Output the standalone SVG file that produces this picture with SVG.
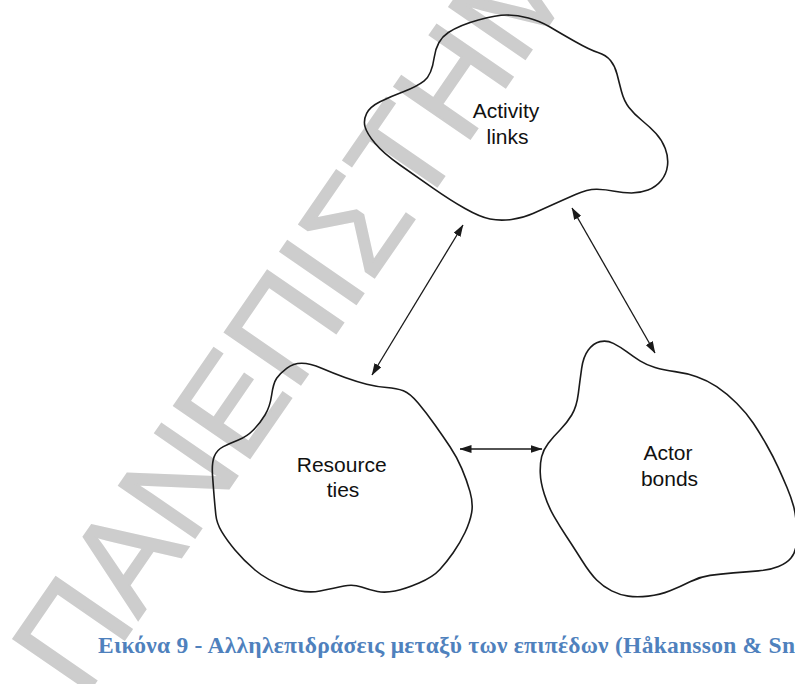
<svg xmlns="http://www.w3.org/2000/svg" width="795" height="684" viewBox="0 0 795 684">
<style>
.wm{font-family:"Liberation Sans",Arial,sans-serif;font-size:134px;fill:#cdcdcd;stroke:#cdcdcd;stroke-width:2}
.blob{fill:none;stroke:#1a1a1a;stroke-width:1.6;stroke-linejoin:round}
.lbl{font-family:"Liberation Sans",Arial,sans-serif;font-size:21px;fill:#111;text-anchor:middle}
.conn{stroke:#1a1a1a;stroke-width:1.3;fill:none;marker-start:url(#ah);marker-end:url(#ah)}
.cap{font-family:"Liberation Serif","Times New Roman",serif;font-size:23.5px;font-weight:bold;fill:#4f81bd}
</style>
<defs>
<marker id="ah" viewBox="0 0 12 8" refX="11.5" refY="4" markerWidth="12" markerHeight="8" markerUnits="userSpaceOnUse" orient="auto-start-reverse">
<path d="M0,0 L12,4 L0,8 Z" fill="#1a1a1a"/>
</marker>
</defs>
<rect width="795" height="684" fill="#fff"/>
<text class="wm" transform="translate(83,700) rotate(-55.4)">ΠΑΝΕΠΙΣΤΗΜΙΟ</text>
<g id="activity">
<path class="blob" d="M424.2,80.85 Q431.7,75 434.2,57.5 Q436.7,40 448.35,32.5 Q460,25 478.35,20 Q496.7,15 506.7,15 Q516.7,15 528.35,18 Q540,21 550,27 Q560,33 575,41.5 Q590,50 598,52.5 Q606,55 610.5,60.5 Q615,66 617,74 Q619,82 621.5,91.5 Q624,101 629,107.5 Q634,114 642,120.5 Q650,127 656,133.5 Q662,140 665.25,148.5 Q668.5,157 667.5,165.5 Q666.5,174 661.25,180.5 Q656,187 648,190 Q640,193 631.5,193 Q623,193 614.5,191.25 Q606,189.5 597,189.25 Q588,189 575.5,194.5 Q563,200 553,204.5 Q543,209 533,213.5 Q523,218 511.5,219.5 Q500,221 490,219 Q480,217 465,208.5 Q450,200 433.35,188.35 Q416.7,176.7 400,165 Q383.3,153.3 375,143.3 Q366.7,133.3 365,126.65 Q363.3,120 366.65,113.35 Q370,106.7 380,101.7 Q390,96.7 403.35,91.7 Q416.7,86.7 424.2,80.85 Z"/>
<text class="lbl" x="506" y="118">Activity</text>
<text class="lbl" x="507.5" y="144">links</text>
</g>
<g id="resource">
<path class="blob" d="M276.65,378.3 Q280,373.3 286.65,368.3 Q293.3,363.3 301.65,363.3 Q310,363.3 321.65,368.3 Q333.3,373.3 345,377.5 Q356.7,381.7 366.7,384.2 Q376.7,386.7 386.7,387.5 Q396.7,388.3 403.35,390.8 Q410,393.3 418.35,403.3 Q426.7,413.3 435,425 Q443.3,436.7 450,446.7 Q456.7,456.7 461.7,468.35 Q466.7,480 470,491.65 Q473.3,503.3 471.65,512.65 Q470,522 465,532.5 Q460,543 453.35,552.5 Q446.7,562 439.85,569.5 Q433,577 419,583 Q405,589 395,591 Q385,593 377.5,591.5 Q370,590 361.5,587 Q353,584 344,586 Q335,588 320,591 Q305,594 285.85,587 Q266.7,580 255,570 Q243.3,560 235,550 Q226.7,540 221.7,531.65 Q216.7,523.3 215.85,515 Q215,506.7 214.15,496.7 Q213.3,486.7 212.5,475 Q211.7,463.3 214.2,456.65 Q216.7,450 223.35,446.65 Q230,443.3 238.35,440 Q246.7,436.7 253.35,430 Q260,423.3 265,415 Q270,406.7 271.65,395 Q273.3,383.3 276.65,378.3 Z"/>
<text class="lbl" x="341.7" y="471.7">Resource</text>
<text class="lbl" x="343" y="496.7">ties</text>
</g>
<g id="actor">
<path class="blob" d="M581.65,368.35 Q583.3,356.7 588.3,350 Q593.3,343.3 600,341.65 Q606.7,340 613.35,343.35 Q620,346.7 626.65,351.7 Q633.3,356.7 640,360.85 Q646.7,365 655,367.5 Q663.3,370 675,371.65 Q686.7,373.3 696.7,376.65 Q706.7,380 716.7,386.65 Q726.7,393.3 736.7,403.3 Q746.7,413.3 753.35,423.3 Q760,433.3 766.65,445 Q773.3,456.7 778.15,467.35 Q783,478 787,487.5 Q791,497 793.5,506 Q796,515 796.5,527.5 Q797,540 796,546.5 Q795,553 791,558 Q787,563 778.5,566.5 Q770,570 758.35,570.85 Q746.7,571.7 733.35,572.85 Q720,574 710,575.35 Q700,576.7 690,581.7 Q680,586.7 670,590.85 Q660,595 648.35,596.15 Q636.7,597.3 628.35,596.15 Q620,595 611.65,590.85 Q603.3,586.7 596.65,580 Q590,573.3 581.65,560 Q573.3,546.7 566.65,536.7 Q560,526.7 554,516.35 Q548,506 544.25,494 Q540.5,482 540.25,472.65 Q540,463.3 541.65,456.65 Q543.3,450 548.3,443.35 Q553.3,436.7 560,430 Q566.7,423.3 571.7,415 Q576.7,406.7 578.35,393.35 Q580,380 581.65,368.35 Z"/>
<text class="lbl" x="668" y="460">Actor</text>
<text class="lbl" x="669.5" y="486">bonds</text>
</g>
<g id="connectors">
<line class="conn" x1="463" y1="225" x2="372" y2="375"/>
<line class="conn" x1="572" y1="208" x2="655" y2="353"/>
<line class="conn" x1="460" y1="449" x2="542" y2="449"/>
</g>
<text class="cap" x="98" y="653" textLength="697" lengthAdjust="spacing">Εικόνα 9 - Αλληλεπιδράσεις μεταξύ των επιπέδων (Håkansson &amp; Sn</text>
</svg>
